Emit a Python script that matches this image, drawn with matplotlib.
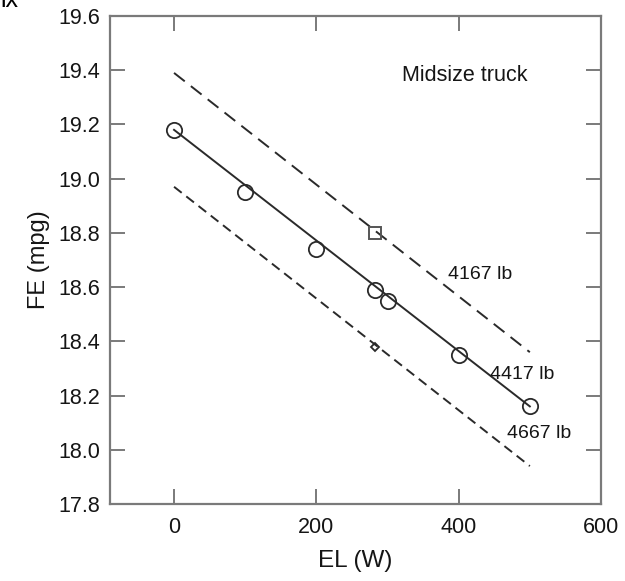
import matplotlib.pyplot as plt

plt.rcParams['font.family'] = ['Liberation Sans', 'DejaVu Sans']

# measured points on the 4417 lb line
el_mid = [0, 100, 200, 283, 300, 400, 500]
fe_mid = [19.18, 18.95, 18.74, 18.59, 18.55, 18.35, 18.16]

# fitted / shifted lines (end points)
el_line = [0, 500]
fe_fit = [19.18, 18.16]     # 4417 lb
fe_light = [19.39, 18.36]   # 4167 lb
fe_heavy = [18.97, 17.94]   # 4667 lb

# single markers
el_sq, fe_sq = [283], [18.80]
el_dm, fe_dm = [283], [18.38]

line_col = '#2a2a2a'
spine_col = '#7a7a7a'
text_col = '#151515'

fig = plt.figure(figsize=(6.25, 5.81), dpi=100)
ax = fig.add_axes([0.176, 0.1325, 0.7856, 0.84])

ax.plot(el_line, fe_fit, '-', color=line_col, lw=1.4)
ax.plot(el_mid, fe_mid, 'o', mfc='none', mec=line_col, ms=11, mew=1.3)
ax.plot(el_line, fe_light, '-', color=line_col, lw=1.4, dashes=(7, 4))
ax.plot(el_line, fe_heavy, '-', color=line_col, lw=1.4, dashes=(5, 3))
ax.plot(el_sq, fe_sq, 's', mfc='none', mec='#555555', ms=8.5, mew=1.4)
ax.plot(el_dm, fe_dm, 'D', mfc='none', mec=line_col, ms=4.5, mew=1.3)

ax.text(385, 18.648, '4167 lb', fontsize=14, va='center', color=text_col)
ax.text(444, 18.279, '4417 lb', fontsize=14, va='center', color=text_col)
ax.text(468, 18.061, '4667 lb', fontsize=14, va='center', color=text_col)
ax.text(320, 19.382, 'Midsize truck', fontsize=15.5, va='center', color=text_col)

ax.set_xlim(-90, 600)
ax.set_ylim(17.8, 19.6)
ax.set_xticks([0, 200, 400, 600])
ax.set_yticks([17.8, 18.0, 18.2, 18.4, 18.6, 18.8, 19.0, 19.2, 19.4, 19.6])
ax.set_yticklabels([f'{v:.1f}' for v in ax.get_yticks()])
ax.tick_params(direction='in', length=11, width=1.4, color=spine_col,
               top=True, right=True, labelsize=15.5, labelcolor=text_col)
ax.tick_params(axis='x', pad=9)
ax.tick_params(axis='y', pad=7)
for s in ax.spines.values():
    s.set_color(spine_col)
    s.set_linewidth(1.6)

ax.set_xlabel('EL (W)', fontsize=17.5, color=text_col, labelpad=9)
ax.set_ylabel('FE (mpg)', fontsize=17, color=text_col, labelpad=6)

fig.text(0.0, 1.0, 'ix', fontsize=18, va='center', ha='left')

fig.savefig('out.png', dpi=100)
